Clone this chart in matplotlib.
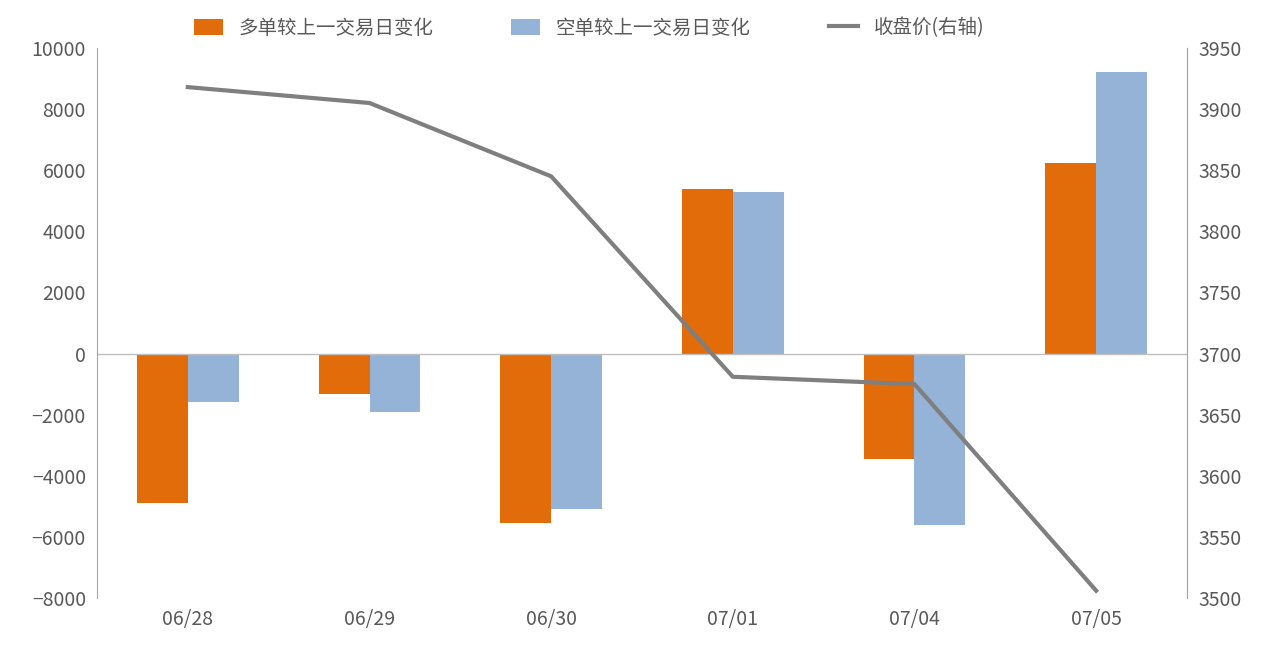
import matplotlib
matplotlib.use("Agg")
import matplotlib.pyplot as plt
import numpy as np

plt.rcParams['font.family'] = ['Noto Sans CJK SC']

categories = ["06/28", "06/29", "06/30", "07/01", "07/04", "07/05"]
long_chg = [-4880, -1310, -5560, 5370, -3440, 6220]
short_chg = [-1600, -1900, -5100, 5300, -5600, 9200]
close = [3918, 3905, 3845, 3681, 3675, 3506]

fig = plt.figure(figsize=(12.8, 6.53), dpi=100)
ax = fig.add_axes([97/1280, 55/653, 1090/1280, 543/653])
ax.set_position([97/1280, 1-598/653, 1090/1280, 550/653])
x = np.arange(len(categories))
w = 0.28
ax.bar(x - w/2, long_chg, w, color="#E36C0A", label="多单较上一交易日变化")
ax.bar(x + w/2, short_chg, w, color="#95B3D7", label="空单较上一交易日变化")
ax.set_xlim(-0.5, len(categories) - 0.5)
ax.set_ylim(-8000, 10000)
ax.set_yticks(range(-8000, 10001, 2000))
ax.axhline(0, color="#BFBFBF", lw=1)
ax.set_xticks(x)
ax.set_xticklabels(categories)
for s in ["top", "bottom"]:
    ax.spines[s].set_visible(False)
for s in ["left", "right"]:
    ax.spines[s].set_color("#A6A6A6")
ax.tick_params(axis='both', length=0, labelsize=14, colors="#595959", pad=8)

ax2 = ax.twinx()
ax2.plot(x, close, color="#7F7F7F", lw=3, label="收盘价(右轴)")
ax2.set_ylim(3500, 3950)
ax2.set_yticks(range(3500, 3951, 50))
for s in ["top", "bottom", "left"]:
    ax2.spines[s].set_visible(False)
ax2.spines["right"].set_color("#A6A6A6")
ax2.tick_params(axis='y', length=0, labelsize=14, colors="#595959", pad=8)

h1, l1 = ax.get_legend_handles_labels()
h2, l2 = ax2.get_legend_handles_labels()
fig.legend(h1 + h2, l1 + l2, loc="upper center", bbox_to_anchor=(0.46, 1.0), ncol=3,
           frameon=False, fontsize=14, labelcolor="#595959", columnspacing=4,
           handlelength=1.5, handleheight=0.9)
fig.savefig("out.png", dpi=100)
